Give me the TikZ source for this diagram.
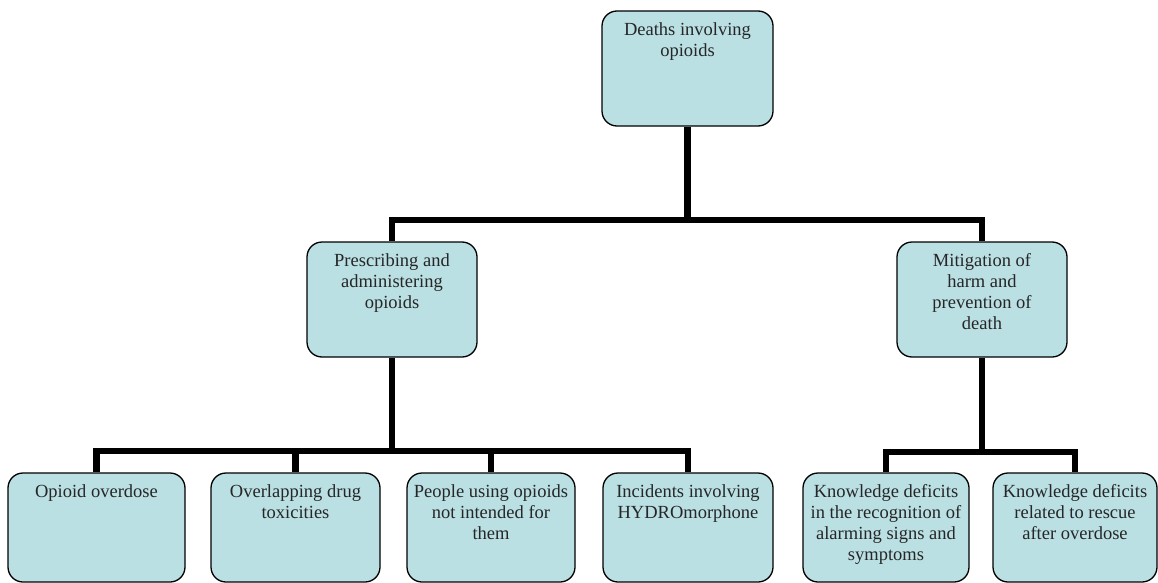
\documentclass[tikz,border=0pt]{standalone}
\usepackage{fontspec}
\setmainfont{Liberation Serif}
\definecolor{boxfill}{RGB}{186,224,228}
\begin{document}
\begin{tikzpicture}[x=1pt,y=-1pt,
  box/.style={draw=black, line width=1.3pt, fill=boxfill, rounded corners=15pt, inner sep=0pt},
  txt/.style={anchor=north, inner sep=0pt, align=center, text=black!85, font=\fontsize{18.5}{21}\selectfont},
  conn/.style={line width=6.5pt, black}]
\useasboundingbox (0,0) rectangle (1158,583);

% connectors first (behind boxes)
\coordinate (j1) at (687.5,220);
\coordinate (j2) at (392,451);
\coordinate (j3) at (982,452);

% boxes
\node[box, minimum width=171pt, minimum height=115pt] (top) at (687.5,68.5) {};
\node[box, minimum width=170pt, minimum height=115pt] (ml) at (392,299.5) {};
\node[box, minimum width=170pt, minimum height=115pt] (mr) at (982,299.5) {};
\node[box, minimum width=177pt, minimum height=109pt] (b1) at (96.5,527.5) {};
\node[box, minimum width=169pt, minimum height=109pt] (b2) at (295.5,527.5) {};
\node[box, minimum width=168pt, minimum height=109pt] (b3) at (491,527.5) {};
\node[box, minimum width=170pt, minimum height=109pt] (b4) at (688,527.5) {};
\node[box, minimum width=166pt, minimum height=109pt] (b5) at (886,527.5) {};
\node[box, minimum width=164pt, minimum height=109pt] (b6) at (1075,527.5) {};

% connectors
\draw[conn] (top.south) -- (j1);
\draw[conn] (ml.north) |- (j1) -| (mr.north);
\draw[conn] (ml.south) -- (j2);
\draw[conn] (b1.north) |- (j2) -| (b4.north);
\draw[conn] (b2.north) -- (b2.north |- j2);
\draw[conn] (b3.north) -- (b3.north |- j2);
\draw[conn] (mr.south) -- (j3);
\draw[conn] (b5.north) |- (j3) -| (b6.north);

% texts
\node[txt] (topt) at ([yshift=-12pt]top.north) {Deaths involving\\opioids};
\node[txt] (mlt) at ([yshift=-12pt]ml.north) {Prescribing and\\administering\\opioids};
\node[txt] (mrt) at ([yshift=-12pt]mr.north) {Mitigation of\\harm and\\prevention of\\death};
\node[txt] (b1t) at ([yshift=-12pt]b1.north) {Opioid overdose};
\node[txt] (b2t) at ([yshift=-12pt]b2.north) {Overlapping drug\\toxicities};
\node[txt] (b3t) at ([yshift=-12pt]b3.north) {People using opioids\\not intended for\\them};
\node[txt] (b4t) at ([yshift=-12pt]b4.north) {Incidents involving\\HYDROmorphone};
\node[txt] (b5t) at ([yshift=-12pt]b5.north) {Knowledge deficits\\in the recognition of\\alarming signs and\\symptoms};
\node[txt] (b6t) at ([yshift=-12pt]b6.north) {Knowledge deficits\\related to rescue\\after overdose};
\end{tikzpicture}
\end{document}
